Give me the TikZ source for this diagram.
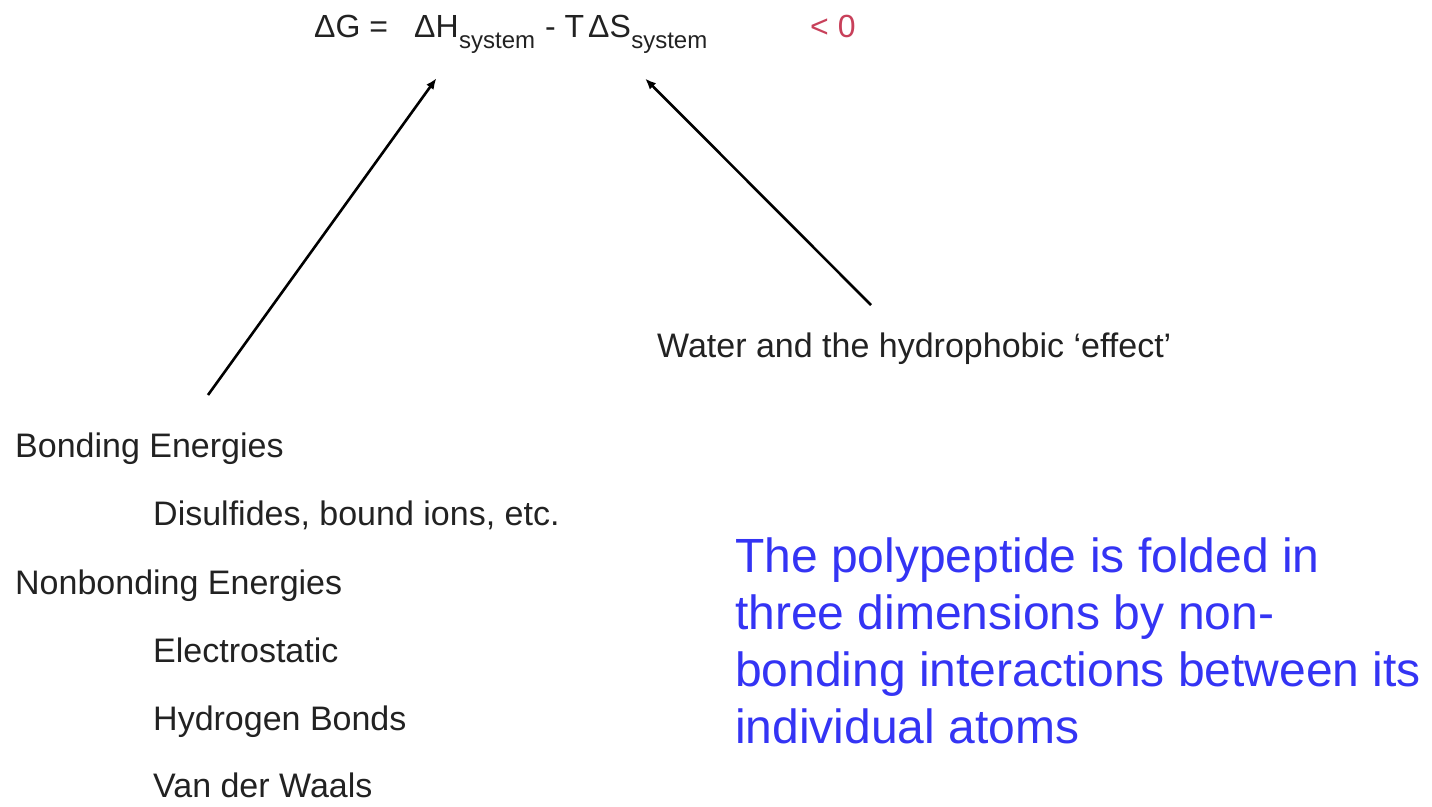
\documentclass[tikz,border=0pt]{standalone}
\usepackage{fontspec}
\setmainfont{Liberation Sans}
\usepackage{xcolor}
\usepackage{tikz}
\usetikzlibrary{arrows.meta,positioning}
\definecolor{Ink}{HTML}{222222}
\definecolor{Blurb}{HTML}{3434F4}
\definecolor{Rose}{HTML}{C8405A}

\begin{document}
\begin{tikzpicture}[x=1pt,y=-1pt,inner sep=0pt,text=Ink]
      \useasboundingbox (0,0) rectangle (1432,806);
      \tikzset{eq/.style={anchor=base west,font=\fontsize{32}{38}\selectfont},
               sub/.style={anchor=base west,font=\fontsize{24}{28}\selectfont},
               item/.style={anchor=base west,font=\fontsize{34}{40}\selectfont},
               arr/.style={-{Latex[length=11pt,width=9pt]},line width=2.6pt,color=black}}
      % the free energy equation
      \node[eq] (dG) at (314,37) {ΔG =};
      \node[eq] (dH) at (414,37) {ΔH};
      \node[sub,right=0pt of dH.base east,anchor=base west,yshift=-11pt] (dHsub) {system};
      \node[eq] (mT) at (545,37) {- T};
      \node[eq] (dS) at (588,37) {ΔS};
      \node[sub,right=0pt of dS.base east,anchor=base west,yshift=-11pt] (dSsub) {system};
      \node[eq,text=Rose] (lt) at (810,37) {< 0};
      % contributions
      \node[item] (water) at (657,357) {Water and the hydrophobic ‘effect’};
      \foreach \n/\x/\y/\t in {bond/15/457/{Bonding Energies},
                               disul/153/525/{Disulfides, bound ions, etc.},
                               nonb/15/594/{Nonbonding Energies},
                               elec/153/662/{Electrostatic},
                               hbond/153/730/{Hydrogen Bonds},
                               vdw/153/797/{Van der Waals}}
        \node[item] (\n) at (\x,\y) {\t};
      \node[anchor=north west,align=left,text=Blurb,
            font=\fontsize{48}{57}\selectfont] (blurb) at (735,538)
            {The polypeptide is folded in\\three dimensions by non-\\bonding interactions between its\\individual atoms};
      \coordinate (bTail) at (208,395);
      \coordinate (wTail) at (871,305);
      \draw[arr] (bTail) -- ([yshift=-41pt]dH.south);
      \draw[arr] (wTail) -- ([shift={(14pt,-41pt)}]dS.south east);
    \end{tikzpicture}
\end{document}
